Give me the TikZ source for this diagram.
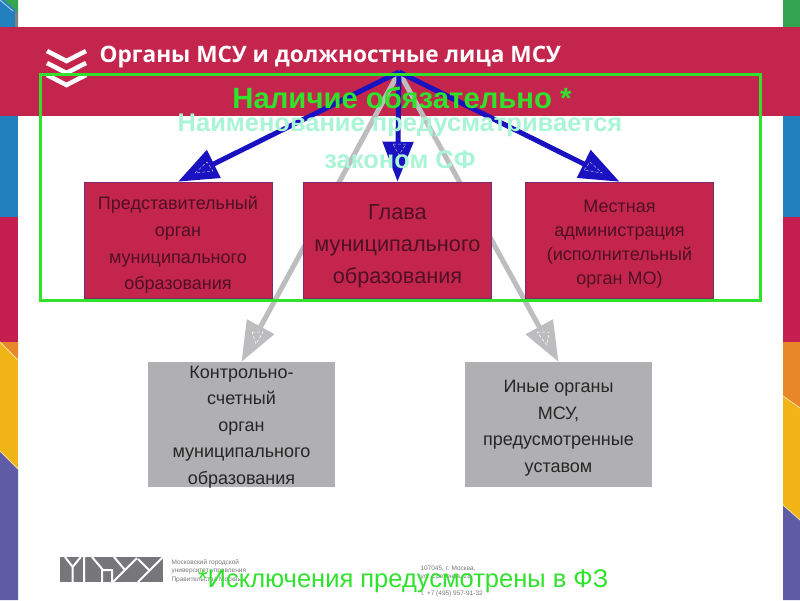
\documentclass[tikz,border=0pt]{standalone}
\usepackage{fontspec}
\setmainfont{Liberation Sans}
\newfontfamily\titlefont{Open Sans}
\usetikzlibrary{arrows.meta, positioning, calc, backgrounds}
\definecolor{crimson}{HTML}{C4254C}
\definecolor{boxedge}{HTML}{7A2A70}
\definecolor{boxtext}{HTML}{4E1024}
\definecolor{greybox}{HTML}{B0B0B2}
\definecolor{greyarrow}{HTML}{BDBDBF}
\definecolor{bluearrow}{HTML}{1A12C0}
\definecolor{framegreen}{HTML}{30E22C}
\definecolor{mint}{HTML}{A9F5D6}
\definecolor{stripblue}{HTML}{2280BE}
\definecolor{stripgreen}{HTML}{35A450}
\definecolor{stripred}{HTML}{C51F52}
\definecolor{striporange}{HTML}{E8862A}
\definecolor{stripyellow}{HTML}{F0B416}
\definecolor{strippurple}{HTML}{5F5CA6}
\definecolor{logogrey}{HTML}{77777B}

\begin{document}
\begin{tikzpicture}[
    x=1pt, y=-1pt,
    redbox/.style={draw=boxedge, line width=0.6pt, fill=crimson, minimum width=188pt, minimum height=116pt, inner sep=0pt},
    graybox/.style={fill=greybox, minimum width=187pt, minimum height=125pt, inner sep=0pt},
    redlab/.style={text=boxtext, align=center, font=\fontsize{18}{26.6}\selectfont},
    graylab/.style={text=black!85, align=center, font=\fontsize{18}{26.6}\selectfont},
    bluelink/.style={bluearrow, line width=5pt, -{Triangle[length=40pt, width=30pt]}},
    graylink/.style={greyarrow, line width=5pt, -{Triangle[length=40pt, width=30pt]}},
    headmark/.style={line width=0.5pt, densely dashed},
    tiny/.style={font=\fontsize{6.5}{8.5}\selectfont, text=logogrey, align=left, anchor=west},
]
\useasboundingbox (0,0) rectangle (800,600);

% ---------------- boxes
\coordinate (apex) at (399,72);
\node[redbox] (council) at (178,240) {};
\node[redbox] (mayor) at (397.5,240) {};
\node[redbox] (admin) at (619.5,240) {};
\node[graybox] (audit) at (241.5,424.5) {};
\node[graybox] (other) at (558.5,424.5) {};

\node[redlab] (councillab) at (178,245) {Представительный\\орган\\муниципального\\образования};
\node[redlab, font=\fontsize{21.7}{32}\selectfont] (mayorlab) at (397.5,246) {Глава\\муниципального\\образования};
\node[redlab, font=\fontsize{18}{24}\selectfont] (adminlab) at (619.5,244) {Местная\\администрация\\(исполнительный\\орган МО)};
\node[graylab] (auditlab) at (241.5,427) {Контрольно-\\счетный\\орган\\муниципального\\образования};
\node[graylab] (otherlab) at (558.5,428) {Иные органы\\МСУ,\\предусмотренные\\уставом};

% ---------------- strips, header band and grey links go underneath
\begin{scope}[on background layer]
\fill[white] (0,0) rectangle (800,600);
\fill[stripblue] (0,0) rectangle (18,217);
\fill[stripgreen] (4,0) -- (18,0) -- (18,12) -- cycle;
\fill[gray] (15,10) -- (18,12) -- (18,27) -- (15,27) -- cycle;
\draw[white!70!stripblue, line width=0.8pt] (0,0) -- (13,11);
\fill[stripred] (0,217) rectangle (18,342);
\fill[stripyellow] (0,342) rectangle (18,469);
\fill[striporange] (0,342) -- (18,342) -- (18,360) -- cycle;
\draw[white!60!stripyellow, line width=0.8pt] (0,342) -- (18,360);
\fill[strippurple] (0,451) -- (18,469) -- (18,600) -- (0,600) -- cycle;
\draw[white!60!stripyellow, line width=0.8pt] (0,451) -- (18,469);

\fill[stripgreen] (783,0) rectangle (800,27);
\fill[stripblue] (783,116) rectangle (800,217);
\fill[stripred] (783,217) rectangle (800,342);
\fill[striporange] (783,342) rectangle (800,408);
\fill[stripyellow] (783,396) -- (800,408) -- (800,520) -- (783,505) -- cycle;
\fill[strippurple] (783,505) -- (800,520) -- (800,600) -- (783,600) -- cycle;
\draw[white!60!stripyellow, line width=0.8pt] (783,396) -- (800,408);
\draw[white!60!stripyellow, line width=0.8pt] (783,505) -- (800,520);

\fill[crimson] (0,27) rectangle (800,116);
\draw[graylink] (apex) -- (audit.north);
\draw[graylink] (apex) -- (other.north);
\end{scope}

% ---------------- header text
\foreach \y in {61,73,85}{
    \draw[white, line width=4.5pt] (47,\y-10) -- (66.5,\y) -- (86,\y-10);
}
\node[anchor=west, text=white, font=\titlefont\fontsize{22.6}{26}\selectfont\bfseries] (title) at (96,57)
    {Органы МСУ и должностные лица МСУ};

% ---------------- blue links
\draw[bluelink] (apex) -- (council.north);
\draw[bluelink] (apex) -- (mayor.north);
\draw[bluelink] (apex) -- (admin.north);

% dashed marks inside the heads
\draw[headmark, white!70!bluearrow] (195,173) -- (207,162) -- (213,171) -- cycle;
\draw[headmark, white!70!bluearrow] (584,170) -- (590,162) -- (602,173) -- cycle;
\draw[headmark, white!70!bluearrow] (393,144) -- (406,144) -- (399,155) -- cycle;
\draw[headmark, white] (252,332) -- (263,332) -- (256,344) -- cycle;
\draw[headmark, white] (537,332) -- (549,332) -- (547,345) -- cycle;

% ---------------- frame and overlay text
\draw[framegreen, line width=3pt] (40,74) rectangle (760,300);
\node[text=mint, align=center, font=\fontsize{25.5}{37}\selectfont\bfseries] (name) at (400,141)
    {Наименование предусматривается\\законом СФ};
\node[text=framegreen, font=\fontsize{29.3}{34}\selectfont\bfseries] (must) at (402,98)
    {Наличие обязательно *};

% ---------------- footer
\fill[logogrey] (60,557) rectangle (163,582);
\draw[white, line width=2pt] (65,557) -- (72.7,567) -- (80.7,557) (72.7,567) -- (72.7,582);
\draw[white, line width=2pt] (84,557) -- (84,582) (92,557) -- (103,570) -- (112,570) -- (112,582) (102,582) -- (102,570);
\draw[white, line width=2pt] (114,557) -- (125,570) (113,582) -- (137,558);
\draw[white, line width=2pt] (138,582) -- (163,557) (138,559) -- (150,571);
\node[tiny] (uni) at (168,571) {Московский городской\\университет управления\\Правительства Москвы};
\node[tiny] (addr) at (417,581) {107045, г. Москва,\\ул. Сретенка, 28\\[8pt]т. +7 (495) 957-91-32};
\node[text=framegreen, font=\fontsize{25.5}{30}\selectfont] (note) at (403,581)
    {*Исключения предусмотрены в ФЗ};
\end{tikzpicture}
\end{document}
